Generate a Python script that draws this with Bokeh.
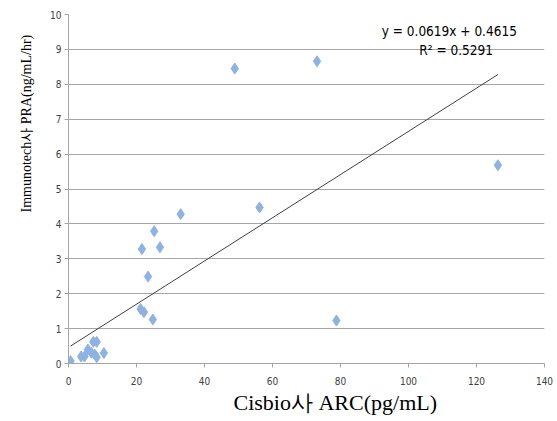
from bokeh.plotting import figure
from bokeh.models import Range1d, Label, FixedTicker, Title
from bokeh.embed import file_html
from bokeh.resources import INLINE

# Data
cisbio_arc = [0.6, 3.7, 4.7, 5.7, 6.7, 7.3, 8.3, 7.7, 8.3, 10.4,
              21.2, 22.2, 24.8, 23.4, 21.6, 25.2, 26.9, 33.0, 56.2,
              48.9, 73.1, 78.8, 126.3]
immunotech_pra = [0.07, 0.2, 0.2, 0.4, 0.31, 0.62, 0.62, 0.26, 0.18, 0.3,
                  1.56, 1.47, 1.26, 2.49, 3.28, 3.79, 3.33, 4.28, 4.47,
                  8.45, 8.66, 1.23, 5.68]
slope = 0.0619
intercept = 0.4615
r_squared = 0.5291
x_ticks = [0, 20, 40, 60, 80, 100, 120, 140]
y_ticks = [0, 1, 2, 3, 4, 5, 6, 7, 8, 9, 10]

p = figure(width=557, height=421, output_backend="svg", toolbar_location=None,
           x_range=Range1d(0, 140), y_range=Range1d(0, 10),
           min_border_left=68, min_border_right=13, min_border_top=14, min_border_bottom=58)
p.outline_line_color = None
p.background_fill_color = "white"
p.border_fill_color = "white"

p.xgrid.grid_line_color = None
p.ygrid.grid_line_color = "#a6a6a6"
p.ygrid.grid_line_width = 1

tick_font = "Liberation Sans Narrow, DejaVu Sans Condensed, Roboto, sans-serif"
p.xaxis.ticker = FixedTicker(ticks=x_ticks)
p.yaxis.ticker = FixedTicker(ticks=y_ticks)
for ax in (p.xaxis, p.yaxis):
    ax.axis_line_color = "#a6a6a6"
    ax.major_tick_line_color = "#a6a6a6"
    ax.minor_tick_line_color = None
    ax.major_tick_in = 0
    ax.major_tick_out = 4
    ax.major_label_text_font = tick_font
    ax.major_label_text_font_size = "10px"
    ax.major_label_text_color = "#404040"
p.xaxis.major_label_standoff = 9
p.yaxis.major_label_standoff = 3

# Trend line
xmin, xmax = min(cisbio_arc), max(cisbio_arc)
p.line([xmin, xmax], [slope * xmin + intercept, slope * xmax + intercept],
       line_color="#404040", line_width=1)

# Points
p.scatter(cisbio_arc, immunotech_pra, marker="diamond", size=11,
          fill_color="#8db3e2", line_color="#8db3e2")

# Equation text
p.add_layout(Label(x=112.0, y=9.54, text=f"y = {slope}x + {intercept}",
                   text_align="center", text_baseline="middle",
                   text_font=tick_font, text_font_size="13.5px", text_color="#000000"))
p.add_layout(Label(x=114.0, y=8.97, text=f"R² = {r_squared}",
                   text_align="center", text_baseline="middle",
                   text_font=tick_font, text_font_size="13.5px", text_color="#000000"))

# Axis titles
xt = Title(text="Cisbio사 ARC(pg/mL)", align="left", offset=165,
           text_font="Liberation Serif", text_font_size="22px",
           text_font_style="normal", text_color="#000000", standoff=0)
p.add_layout(xt, "below")
yt = Title(text="Immunotech사 PRA(ng/mL/hr)", align="left", offset=151,
           text_font="Liberation Serif", text_font_size="14px",
           text_font_style="normal", text_color="#000000", standoff=28)
p.add_layout(yt, "left")

open("out.html", "w").write(file_html(p, INLINE))
